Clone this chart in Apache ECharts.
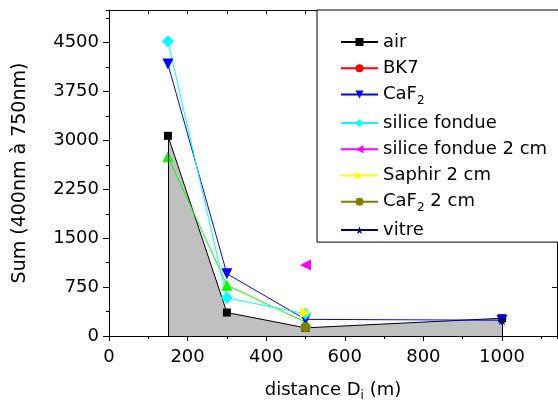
<!DOCTYPE html>
<html><head><meta charset="utf-8">
<script src="https://cdn.jsdelivr.net/npm/echarts@6/dist/echarts.min.js"></script>
<style>html,body{margin:0;padding:0;background:#fff}#c{width:558px;height:403px}</style>
</head><body><div id="c"></div>
<script>
// ---- data ----
const xTicks = [0, 200, 400, 600, 800, 1000];
const yTicks = [0, 750, 1500, 2250, 3000, 3750, 4500];
const airX = [150, 300, 500, 1000];
const airY = [3070, 360, 125, 272];
const bk7X = [];
const bk7Y = [];
const saphirX = [150, 300, 500];
const saphirY = [2750, 780, 212];
const caf2X = [150, 300, 500, 1000];
const caf2Y = [4170, 955, 255, 242];
const siliceX = [150, 300, 500];
const siliceY = [4520, 585, 340];
const silice2X = [500];
const silice2Y = [1090];
const saphir2X = [500];
const saphir2Y = [355];
const caf22X = [500];
const caf22Y = [135];
const vitreX = [1000];
const vitreY = [245];

const zip = (xs, ys) => xs.map((x, i) => [x, ys[i]]);
const FONT = 'DejaVu Sans';
const star = 'path://M50,0 L61,35 L98,35 L68,57 L79,91 L50,70 L21,91 L32,57 L2,35 L39,35 Z';

function ser(name, xs, ys, color, symbol, size, rot, extra) {
  return Object.assign({
    name: name, type: 'line', data: zip(xs, ys),
    xAxisIndex: 0, yAxisIndex: 0,
    symbol: symbol, symbolSize: size, symbolRotate: rot || 0,
    showAllSymbol: true,
    itemStyle: { color: color, opacity: 1 },
    lineStyle: { color: color, width: 1 },
    emphasis: { disabled: true },
    animation: false
  }, extra || {});
}

const chart = echarts.init(document.getElementById('c'), null, { renderer: 'canvas' });
const labelMap = {
  'CaF2': 'CaF{sub|2}',
  'CaF2 2 cm': 'CaF{sub|2} 2 cm'
};
chart.setOption({
  animation: false,
  textStyle: { fontFamily: FONT },
  grid: { left: 109, top: 10, right: 1, bottom: 67, containLabel: false, outerBoundsMode: 'none' },
  xAxis: [
    { type: 'value', min: 0, max: 1140, interval: 200, position: 'bottom',
      axisLine: { show: true, onZero: false, lineStyle: { color: '#000', width: 1 } },
      axisTick: { show: true, length: 5, lineStyle: { color: '#000' } },
      axisLabel: { show: true, color: '#000', fontSize: 18, fontFamily: FONT, margin: 12, showMaxLabel: false,
        formatter: v => (xTicks.indexOf(v) >= 0 ? String(v) : '') },
      splitLine: { show: false },
      name: 'distance D{sub|i} (m)', nameLocation: 'middle', nameGap: 42,
      nameTextStyle: { color: '#000', fontSize: 18, fontFamily: FONT,
        rich: { sub: { fontSize: 12, fontFamily: FONT, color: '#000', padding: [12, 0, 0, 0] } } } },
    { type: 'value', min: 0, max: 1140, interval: 100, position: 'bottom',
      axisLine: { show: false }, axisTick: { show: true, length: 3, lineStyle: { color: '#000' } },
      axisLabel: { show: false }, splitLine: { show: false } },
    { type: 'value', min: 0, max: 1140, interval: 100, position: 'top',
      axisLine: { show: true, onZero: false, lineStyle: { color: '#000', width: 1 } },
      axisTick: { show: true, inside: true, length: 4, lineStyle: { color: '#000' } },
      axisLabel: { show: false }, splitLine: { show: false } }
  ],
  yAxis: [
    { type: 'value', min: 0, max: 5000, interval: 750, position: 'left',
      axisLine: { show: true, onZero: false, lineStyle: { color: '#000', width: 1 } },
      axisTick: { show: true, length: 6, lineStyle: { color: '#000' } },
      axisLabel: { show: true, color: '#000', fontSize: 18, fontFamily: FONT, margin: 10, showMaxLabel: false,
        formatter: v => (yTicks.indexOf(v) >= 0 ? String(v) : '') },
      splitLine: { show: false },
      name: 'Sum (400nm à 750nm)', nameLocation: 'middle', nameGap: 79,
      nameTextStyle: { color: '#000', fontSize: 19, fontFamily: FONT } },
    { type: 'value', min: 0, max: 5000, interval: 375, position: 'left',
      axisLine: { show: false }, axisTick: { show: true, length: 3, lineStyle: { color: '#000' } },
      axisLabel: { show: false }, splitLine: { show: false } },
    { type: 'value', min: 0, max: 5000, interval: 750, position: 'right',
      axisLine: { show: true, onZero: false, lineStyle: { color: '#000', width: 1 } },
      axisTick: { show: true, inside: true, length: 5, lineStyle: { color: '#000' } },
      axisLabel: { show: false }, splitLine: { show: false } }
  ],
  legend: {
    show: true, orient: 'vertical', left: 317, top: 10,
    data: ['air', 'BK7', 'CaF2', 'silice fondue', 'silice fondue 2 cm', 'Saphir 2 cm', 'CaF2 2 cm', 'vitre'],
    padding: [22, 40, 2, 23],
    itemGap: 6.3, itemWidth: 37, itemHeight: 10,
    backgroundColor: '#fff', borderColor: '#000', borderWidth: 1, borderRadius: 0,
    selectedMode: false,
    formatter: n => labelMap[n] || n,
    textStyle: { color: '#000', fontSize: 18, fontFamily: FONT, lineHeight: 20, padding: [0, 0, 0, 0],
      rich: { sub: { fontSize: 12, fontFamily: FONT, color: '#000', padding: [12, 0, 0, 0] } } }
  },
  series: [
    ser('air', airX, airY, '#000000', 'rect', 8, 0, {
      areaStyle: { color: '#c0c0c0', opacity: 1, origin: 'start' },
      z: 2,
      markLine: {
        silent: true, symbol: 'none', animation: false,
        label: { show: false },
        lineStyle: { color: '#000', width: 1, type: 'solid' },
        data: [
          [{ coord: [airX[0], 0] }, { coord: [airX[0], airY[0]] }],
          [{ coord: [airX[airX.length - 1], 0] }, { coord: [airX[airX.length - 1], airY[airY.length - 1]] }]
        ]
      }
    }),
    ser('BK7', bk7X, bk7Y, '#ff0000', 'circle', 10, 0, { z: 3 }),
    ser('Saphir', saphirX, saphirY, '#00ff00', 'triangle', 11, 0, { z: 3 }),
    ser('CaF2', caf2X, caf2Y, '#0000ff', 'triangle', 11, 180, { z: 3 }),
    ser('silice fondue', siliceX, siliceY, '#00ffff', 'diamond', 12, 0, { z: 3 }),
    ser('silice fondue 2 cm', silice2X, silice2Y, '#ff00ff', 'triangle', 11, 90, { z: 3 }),
    ser('Saphir 2 cm', saphir2X, saphir2Y, '#ffff00', 'triangle', 11, -90, { z: 3 }),
    ser('CaF2 2 cm', caf22X, caf22Y, '#808000', 'circle', 10, 0, { z: 3 }),
    ser('vitre', vitreX, vitreY, '#000080', star, 10, 0, { z: 3 })
  ]
});
</script></body></html>
